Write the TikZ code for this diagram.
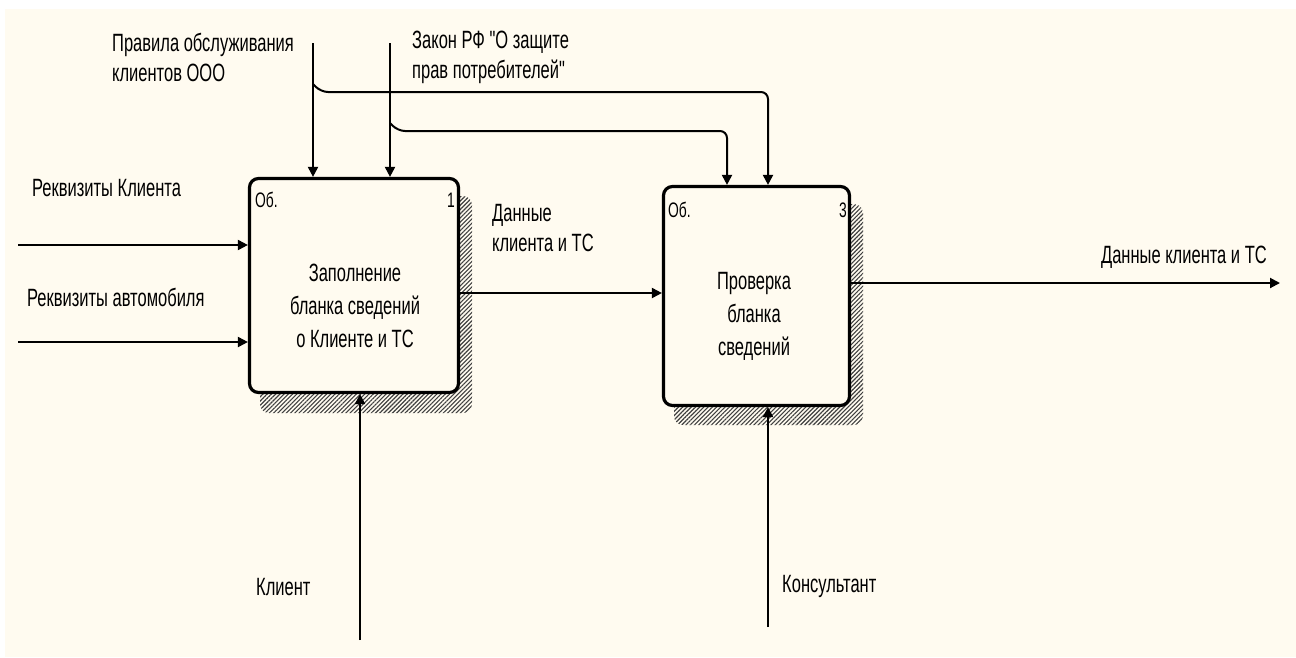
\documentclass[tikz,border=0pt]{standalone}
\usepackage{fontspec}
\setmainfont[FakeStretch=0.66,Ligatures=TeXOff]{Liberation Sans}
\usetikzlibrary{arrows.meta,patterns.meta}
\definecolor{paper}{RGB}{255,251,240}
\begin{document}
\begin{tikzpicture}[x=1pt,y=-1pt,
  lbl/.style={font=\fontsize{25}{30}\selectfont, inner sep=0pt, align=left},
  boxtext/.style={font=\fontsize{25}{33}\selectfont, inner sep=0pt, align=center},
  corner/.style={font=\fontsize{21}{22}\selectfont, inner sep=0pt},
  activity/.style={draw, line width=3.2pt, rounded corners=9pt, fill=paper, inner sep=0pt},
  hatch/.style={rounded corners=9pt, pattern={Lines[angle=45,distance=3pt,line width=1.1pt]}, pattern color=black!75},
  flow/.style={line width=2pt, -{Triangle[length=10pt,width=10pt]}},
  branch/.style={flow, rounded corners=7pt}]
\useasboundingbox (0,0) rectangle (1296,657);
\fill[white] (0,0) rectangle (1296,657);
\fill[paper] (5,9) rectangle (1296,657);

% hatched shadows behind the activity boxes
\fill[hatch] (260,196) rectangle (472,413);
\fill[hatch] (674,204) rectangle (863,425);

% activity boxes
\node[activity, minimum width=209pt, minimum height=214pt] (b1) at (354,285.5) {};
\node[activity, minimum width=186pt, minimum height=219pt] (b2) at (756.5,296) {};

\node[boxtext] (t1) at (355,306) {Заполнение\\бланка сведений\\о Клиенте и ТС};
\node[boxtext] (t2) at (754,316) {Проверка\\бланка\\сведений};

\node[corner, anchor=west] (o1) at (255,200) {Об.};
\node[corner, anchor=east] (n1) at (455,200) {1};
\node[corner, anchor=west] (o2) at (668,210) {Об.};
\node[corner, anchor=east] (n2) at (847,210) {3};

% free ends of the arrows
\coordinate (inK) at (18,245);
\coordinate (inA) at (18,342);
\coordinate (c1) at (313,43);
\coordinate (c2) at (390,43);
\coordinate (j1) at (313,84);
\coordinate (j2) at (390,123);
\coordinate (m1) at (360,640);
\coordinate (m2) at (768,627);
\coordinate (out) at (1280,283);
\coordinate (d) at (0,293);

% inputs
\draw[flow] (inK) -- (b1.west |- inK);
\draw[flow] (inA) -- (b1.west |- inA);

% controls
\draw[flow] (c1) -- (c1 |- b1.north);
\draw[flow] (c2) -- (c2 |- b1.north);
\draw[branch] (j1) -- (321,92) -- (768,92) -- (768,0 |- b2.north);
\draw[branch] (j2) -- (398,131) -- (727,131) -- (727,0 |- b2.north);

% outputs
\draw[flow] (b1.east |- d) -- (b2.west |- d);
\draw[flow] (b2.east |- out) -- (out);

% mechanisms
\draw[flow] (m1) -- (m1 |- b1.south);
\draw[flow] (m2) -- (m2 |- b2.south);

% labels
\node[lbl, anchor=west] (lr) at (112,57) {Правила обслуживания\\клиентов ООО};
\node[lbl, anchor=west] (ll) at (412,57) {Закон РФ "О защите\\прав потребителей"};
\node[lbl, anchor=west] (lk) at (32,188) {Реквизиты Клиента};
\node[lbl, anchor=west] (la) at (27,297) {Реквизиты автомобиля};
\node[lbl, anchor=west] (ld) at (492,228) {Данные\\клиента и ТС};
\node[lbl, anchor=east] (lo) at (1267,257) {Данные клиента и ТС};
\node[lbl, anchor=west] (lc) at (256,587) {Клиент};
\node[lbl, anchor=west] (lm) at (782,586) {Консультант};
\end{tikzpicture}
\end{document}
